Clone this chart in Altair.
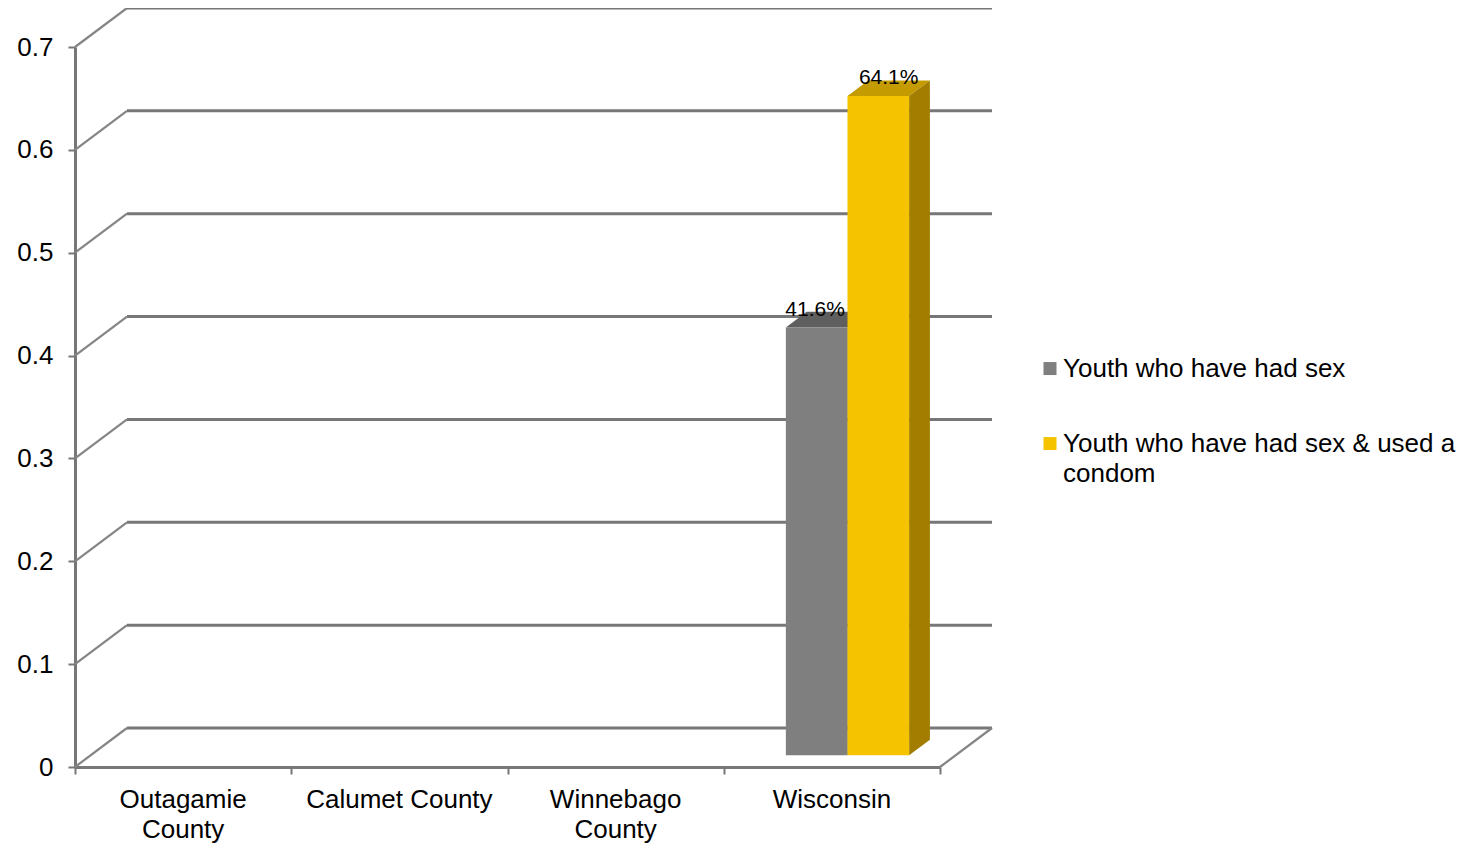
import altair as alt
import pandas as pd

# ---------------- data ----------------
categories = ["Outagamie County", "Calumet County", "Winnebago County", "Wisconsin"]
category_labels = ["Outagamie\nCounty", "Calumet County", "Winnebago\nCounty", "Wisconsin"]
series = ["Youth who have had sex", "Youth who have had sex & used a condom"]
had_sex = [None, None, None, 0.416]
had_sex_condom = [None, None, None, 0.641]
y_ticks = [0, 0.1, 0.2, 0.3, 0.4, 0.5, 0.6, 0.7]
x_ticks = [0, 1, 2, 3, 4]

# ---------------- style ----------------
front_colors = ["#7F7F7F", "#F5C300"]
top_colors = ["#5F5F5F", "#C49B00"]
side_colors = ["#555555", "#A27D00"]
LINE = "#777777"
FONT = "Liberation Sans"

W, H = 865, 720
Y_MAX = 0.7
N = len(categories)
# oblique projection for depth (in data units)
DX = 52 * N / W
DY = 39 * Y_MAX / H
BAR_W = 0.285
D_FRONT, D_BACK = 0.3, 0.7
LABEL_NUDGE = 12 * N / W  # label of the first series is pushed left, clear of its neighbour

values = [had_sex, had_sex_condom]

front_rows, top_rows, side_rows, label_rows = [], [], [], []
for s, vals in enumerate(values):
    for i, v in enumerate(vals):
        if v is None:
            continue
        bid = f"{s}-{i}"
        xl = i + 0.5 - BAR_W + s * BAR_W
        xr = xl + BAR_W
        front_rows.append(dict(series=series[s], x=xl + D_FRONT * DX, x2=xr + D_FRONT * DX,
                               y=D_FRONT * DY, y2=v + D_FRONT * DY))
        for d in (D_FRONT, D_BACK):
            top_rows.append(dict(bar=bid, fill=top_colors[s], yy=v + d * DY,
                                 xa=xl + d * DX, xb=xr + d * DX))
            side_rows.append(dict(bar=bid, fill=side_colors[s], xx=xr + d * DX,
                                  ya=d * DY, yb=v + d * DY))
        has_right_neighbour = s + 1 < len(values) and values[s + 1][i] is not None
        lx = (xl + xr) / 2 + 0.5 * DX - (LABEL_NUDGE if has_right_neighbour else 0)
        label_rows.append(dict(x=lx, y=v + D_BACK * DY, value=v))

front_df = pd.DataFrame(front_rows)
top_df = pd.DataFrame(top_rows)
side_df = pd.DataFrame(side_rows)
label_df = pd.DataFrame(label_rows)

wall_df = pd.DataFrame({"v": y_ticks})
wall_df["x0"] = 0.0
wall_df["xd"] = DX
wall_df["xe"] = N + DX
wall_df["vd"] = wall_df["v"] + DY

floor_df = pd.DataFrame({"x": [float(N)], "xd": [N + DX], "y": [0.0], "yd": [DY]})
cat_df = pd.DataFrame({"x": [i + 0.5 for i in range(N)], "y": [0.0] * N, "label": category_labels})

xs = alt.Scale(domain=[0, N], nice=False, zero=False)
ys = alt.Scale(domain=[0, Y_MAX], nice=False, zero=False)

x_axis = alt.Axis(values=x_ticks, labels=False, title=None, grid=False, domainColor=LINE,
                  domainWidth=3, tickColor=LINE, tickWidth=2, tickSize=7)
y_axis = alt.Axis(values=y_ticks, title=None, grid=False, domainColor=LINE, domainWidth=3,
                  tickColor=LINE, tickWidth=2, tickSize=7, labelFontSize=26, labelFont=FONT,
                  labelColor="black", labelPadding=15, labelExpr="format(datum.value, '~g')")

# side wall diagonals
side_wall = alt.Chart(wall_df).mark_rule(color="#858585", strokeWidth=2.2).encode(
    x=alt.X("x0:Q", scale=xs, axis=x_axis),
    y=alt.Y("v:Q", scale=ys, axis=y_axis),
    x2="xd:Q", y2="vd:Q")

# back wall gridlines
back_wall = alt.Chart(wall_df).mark_rule(color=LINE, strokeWidth=3).encode(
    x="xd:Q", x2="xe:Q", y="vd:Q")

floor = alt.Chart(floor_df).mark_rule(color="#858585", strokeWidth=2.2).encode(
    x="x:Q", x2="xd:Q", y="y:Q", y2="yd:Q")

legend_symbol = "M-1,-2.3H1V-0.3H-1Z"
front = alt.Chart(front_df).mark_rect().encode(
    x="x:Q", x2="x2:Q", y="y:Q", y2="y2:Q",
    color=alt.Color("series:N", scale=alt.Scale(domain=series, range=front_colors),
                    legend=alt.Legend(title=None, orient="none", legendX=962, legendY=317,
                                      symbolType=legend_symbol, symbolSize=169, symbolStrokeWidth=0,
                                      labelFontSize=26, labelFont=FONT, labelColor="black",
                                      labelLimit=600, labelOffset=0, rowPadding=49,
                                      labelBaseline="alphabetic",
                                      labelExpr="datum.label == 'Youth who have had sex & used a condom' ? ['Youth who have had sex & used a', 'condom'] : datum.label")))

top = alt.Chart(top_df).mark_area(orient="horizontal").encode(
    y="yy:Q", x="xa:Q", x2="xb:Q", detail="bar:N",
    fill=alt.Fill("fill:N", scale=None, legend=None))

side = alt.Chart(side_df).mark_area(orient="vertical").encode(
    x="xx:Q", y="ya:Q", y2="yb:Q", detail="bar:N",
    fill=alt.Fill("fill:N", scale=None, legend=None))

labels = alt.Chart(label_df).mark_text(fontSize=21, font=FONT, color="black",
                                       baseline="alphabetic", dy=4).encode(
    x="x:Q", y="y:Q", text=alt.Text("value:Q", format=".1%"))

cats = alt.Chart(cat_df).mark_text(fontSize=26, font=FONT, color="black", baseline="alphabetic",
                                   dy=41, lineHeight=30, lineBreak="\n").encode(
    x="x:Q", y="y:Q", text="label:N")

chart = alt.layer(side_wall, back_wall, floor, top, side, front, labels, cats).properties(
    width=W, height=H, padding={"left": 67, "top": 39, "right": 530, "bottom": 79},
    autosize=alt.AutoSizeParams(type="none"),
    background="white",
).configure(style={"guide-label": {"lineHeight": 30}}).configure_view(stroke=None)

chart.save("out.html", embed_options={"renderer": "svg", "actions": False})
